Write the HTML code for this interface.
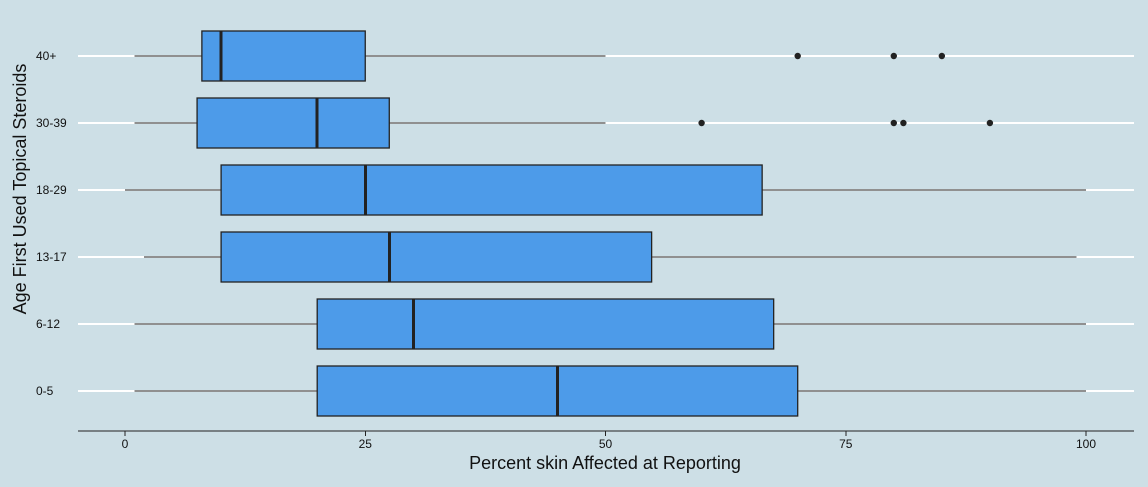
<!DOCTYPE html>
<html><head><meta charset="utf-8"><style>
html,body{margin:0;padding:0;background:#cddfe6;}
svg{display:block;font-family:"Liberation Sans",sans-serif;}
line{shape-rendering:crispEdges;}
</style></head><body>
<svg width="1148" height="487" viewBox="0 0 1148 487">
<rect width="1148" height="487" fill="#cddfe6"/>
<g id="grid"></g><g id="boxes"></g><g id="axes"></g>
<text x="605" y="469" font-size="18" text-anchor="middle" fill="#111">Percent skin Affected at Reporting</text>
<text transform="translate(26,189) rotate(-90)" font-size="18" text-anchor="middle" fill="#111">Age First Used Topical Steroids</text>
</svg>
<script>
const categories=["0-5","6-12","13-17","18-29","30-39","40+"];
const whiskerLow=[1,1,2,0,1,1];
const q1=[20,20,10,10,7.5,8];
const median=[45,30,27.5,25,20,10];
const q3=[70,67.5,54.8,66.3,27.5,25];
const whiskerHigh=[100,100,99,100,50,50];
const outliers=[[],[],[],[],[60,80,81,90],[70,80,85]];
const xTicks=[0,25,50,75,100];
const NS="http://www.w3.org/2000/svg";
const x=v=>125+v*9.61;
const y=i=>391-i*67;
function mk(tag,attrs,parent){const e=document.createElementNS(NS,tag);for(const k in attrs)e.setAttribute(k,attrs[k]);document.getElementById(parent).appendChild(e);return e;}
categories.forEach((c,i)=>{
 const g=mk("line",{x1:78,x2:1134,y1:y(i),y2:y(i),stroke:"#fff","stroke-width":2},"grid");
 
 
 const w=mk("line",{x1:x(whiskerLow[i]),x2:x(whiskerHigh[i]),y1:y(i),y2:y(i),stroke:"#222","stroke-width":1.2},"boxes");
 
 
 const b=mk("rect",{x:x(q1[i]),y:y(i)-25,width:x(q3[i])-x(q1[i]),height:50,fill:"#4d9be9",stroke:"#222","stroke-width":1.3},"boxes");
 
 
 const m=mk("line",{x1:x(median[i]),x2:x(median[i]),y1:y(i)-25,y2:y(i)+25,stroke:"#222","stroke-width":3},"boxes");
 
 
 outliers[i].forEach(o=>{const p=mk("circle",{cx:x(o),cy:y(i),r:3.2,fill:"#222"},"boxes");
  
  });
 const t=mk("text",{x:36,y:y(i)+4,"font-size":12,fill:"#111"},"axes");t.textContent=c;
 
 
});
const ax=mk("line",{x1:78,x2:1134,y1:431,y2:431,stroke:"#222","stroke-width":1.2},"axes");


xTicks.forEach(v=>{
 const tk=mk("line",{x1:x(v),x2:x(v),y1:431,y2:436,stroke:"#222"},"axes");
 
 
 const t=mk("text",{x:x(v),y:448,"font-size":12,"text-anchor":"middle",fill:"#111"},"axes");t.textContent=v;
 
 
});
</script>
</body></html>
